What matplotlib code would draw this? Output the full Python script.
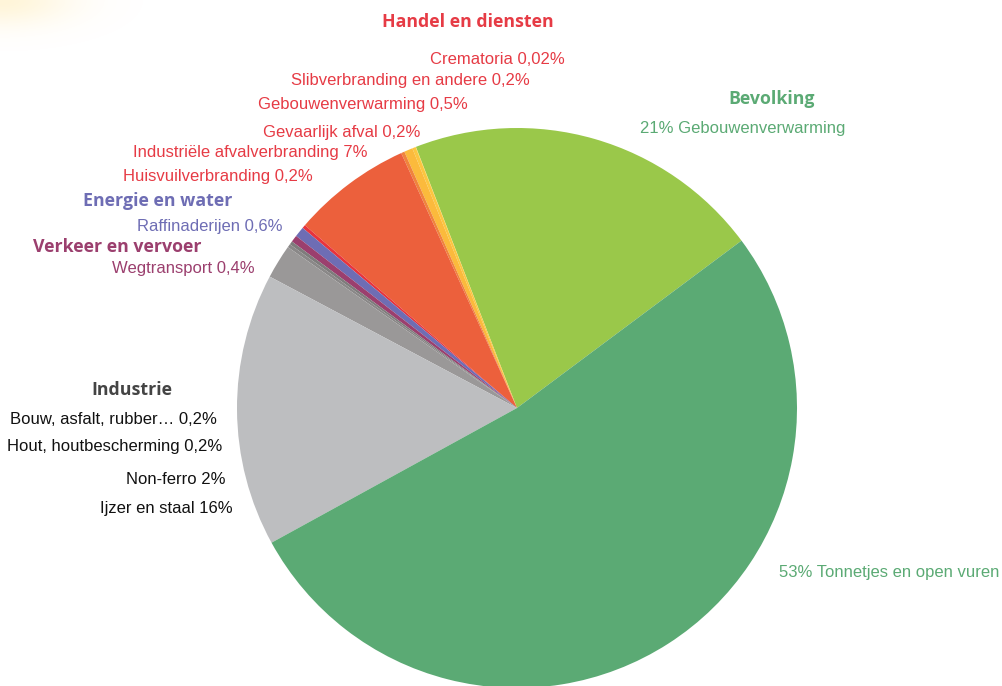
import numpy as np
import matplotlib.pyplot as plt

# slices, counterclockwise starting at the Bevolking slice
labels = ['Bevolking: Gebouwenverwarming', 'Crematoria', 'Slibverbranding en andere',
          'Gebouwenverwarming', 'Gevaarlijk afval', 'Industriële afvalverbranding',
          'Huisvuilverbranding', 'Raffinaderijen', 'Wegtransport',
          'Bouw, asfalt, rubber', 'Hout, houtbescherming', 'Non-ferro',
          'Ijzer en staal', 'Tonnetjes en open vuren']
values = [21, 0.02, 0.2, 0.5, 0.2, 7, 0.2, 0.6, 0.4, 0.2, 0.2, 2, 16, 53]
colors = ['#9AC84A', '#FDD04A', '#FCC640', '#FBBA3C', '#F0843C', '#EC603C',
          '#E8343C', '#6E6DB4', '#9B3F6E', '#7E7C7C', '#8A8888', '#9A9898',
          '#BDBEC0', '#5BAA74']

RED = '#E63B45'
PURPLE = '#6E6DB4'
MAGENTA = '#9B3F6E'
GREEN = '#5BAA74'

W, H = 1003, 686
fig = plt.figure(figsize=(W / 100, H / 100), dpi=100)
ax = fig.add_axes([0, 0, 1, 1])

# faint yellow glow in the top-left corner
yy, xx = np.mgrid[0:120, 0:300]
glow = np.exp(-((xx / 70.0) ** 2 + (yy / 25.0) ** 2))
rgba = np.zeros((120, 300, 4))
rgba[..., 0] = 1.0
rgba[..., 1] = 0.85
rgba[..., 2] = 0.4
rgba[..., 3] = glow * 0.25
ax.imshow(rgba, extent=(0, 300, 120, 0), zorder=0)

# y axis points down (pixel coords), so screen-CCW is data-clockwise
ax.pie(values, colors=colors, startangle=-36.7, counterclock=False,
       center=(517, 408), radius=280, frame=True,
       wedgeprops=dict(linewidth=0))
ax.set_xlim(0, W)
ax.set_ylim(H, 0)
ax.set_aspect('auto')
ax.axis('off')

reg = dict(family='Liberation Sans', fontsize=12)
head = dict(family='Open Sans', fontsize=12.8, fontweight='bold')

ax.text(468, 22, 'Handel en diensten', color=RED, ha='center', va='center', **head)
left_red = [('Crematoria 0,02%', 565, 59), ('Slibverbranding en andere 0,2%', 530, 80),
            ('Gebouwenverwarming 0,5%', 468, 105), ('Gevaarlijk afval 0,2%', 420, 132),
            ('Industriële afvalverbranding 7%', 368, 153), ('Huisvuilverbranding 0,2%', 313, 177)]
for t, x, y in left_red:
    ax.text(x, y, t, color=RED, ha='right', va='center', **reg)

ax.text(232, 201, 'Energie en water', color=PURPLE, ha='right', va='center', **head)
ax.text(283, 226, 'Raffinaderijen 0,6%', color=PURPLE, ha='right', va='center', **reg)
ax.text(202, 247, 'Verkeer en vervoer', color=MAGENTA, ha='right', va='center', **head)
ax.text(255, 269, 'Wegtransport 0,4%', color=MAGENTA, ha='right', va='center', **reg)

ax.text(172, 390, 'Industrie', color='#444444', ha='right', va='center', **head)
ind = [('Bouw, asfalt, rubber… 0,2%', 217, 419), ('Hout, houtbescherming 0,2%', 222, 447),
       ('Non-ferro 2%', 226, 479), ('Ijzer en staal 16%', 233, 508)]
for t, x, y in ind:
    ax.text(x, y, t, color='#111111', ha='right', va='center', **reg)

ax.text(728, 99, 'Bevolking', color=GREEN, ha='left', va='center', **head)
ax.text(640, 128, '21% Gebouwenverwarming', color=GREEN, ha='left', va='center', **reg)
ax.text(779, 573, '53% Tonnetjes en open vuren', color=GREEN, ha='left', va='center', **reg)

fig.savefig('out.png', dpi=100)
